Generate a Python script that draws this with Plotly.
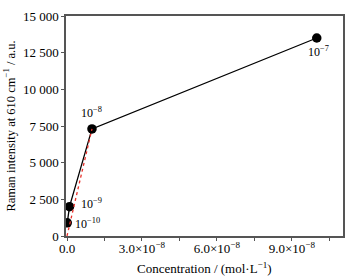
import plotly.graph_objects as go

conc = [1e-10, 1e-9, 1e-8, 1e-7]
intensity = [900, 2000, 7300, 13500]
point_labels = ["10<sup>−10</sup>", "10<sup>−9</sup>", "10<sup>−8</sup>", "10<sup>−7</sup>"]
fit_x = [0.0, 1e-8]
fit_y = [0, 7300]

x_tickvals = [0, 1.5e-8, 3e-8, 4.5e-8, 6e-8, 7.5e-8, 9e-8, 10.5e-8]
x_ticktext = ["0.0", "", "3.0×10<sup>−8</sup>", "", "6.0×10<sup>−8</sup>", "",
              "9.0×10<sup>−8</sup>", ""]
y_tickvals = [0, 2500, 5000, 7500, 10000, 12500, 15000]
y_ticktext = ["0", "2 500", "5 000", "7 500", "10 000", "12 500", "15 000"]

font = "Liberation Serif, Times New Roman, serif"
fs = 13

fig = go.Figure()
fig.add_trace(go.Scatter(x=conc, y=intensity, mode="lines+markers",
                         line=dict(color="black", width=1.3),
                         marker=dict(color="black", size=9.5),
                         showlegend=False, hoverinfo="skip"))
fig.add_trace(go.Scatter(x=fit_x, y=fit_y, mode="lines",
                         line=dict(color="#e8302a", width=1.3, dash="dot"),
                         showlegend=False, hoverinfo="skip"))

# (xshift, yshift, xanchor, yanchor)
offsets = [(6, -1, "left", "middle"), (9, 3, "left", "middle"),
           (0, 7, "center", "bottom"), (2, -4, "center", "top")]
for x, y, t, (ax, ay, xa, ya) in zip(conc, intensity, point_labels, offsets):
    fig.add_annotation(x=x, y=y, text=t, showarrow=False,
                       xshift=ax, yshift=ay, xanchor=xa, yanchor=ya,
                       font=dict(family=font, size=fs - 1, color="black"))

fig.add_annotation(xref="paper", yref="paper", x=0.5, y=0, yshift=-22,
                   xanchor="center", yanchor="top", showarrow=False,
                   text="Concentration / (mol·L<sup>−1</sup>)",
                   font=dict(family=font, size=fs, color="black"))

axis_common = dict(showline=True, mirror=True, linecolor="#555555", linewidth=1.5,
                   ticks="outside", tickcolor="#555555", ticklen=3, tickwidth=1,
                   showgrid=False, zeroline=False,
                   tickfont=dict(family=font, size=fs, color="black"))

fig.update_xaxes(range=[-0.04e-8, 11.05e-8], tickmode="array",
                 tickvals=x_tickvals, ticktext=x_ticktext,
                 ticklabelstandoff=-3,
                 **axis_common)
fig.update_yaxes(range=[0, 15000], tickmode="array",
                 tickvals=y_tickvals, ticktext=y_ticktext,
                 title=dict(text="Raman intensity at 610 cm<sup>−1</sup> / a.u.",
                            font=dict(family=font, size=12.5, color="black"),
                            standoff=5),
                 **axis_common)

fig.update_layout(width=354, height=276,
                  margin=dict(l=66, r=9, t=12, b=40),
                  plot_bgcolor="white", paper_bgcolor="white")

fig.write_html("out.html", config={"displayModeBar": False},
               post_script="document.body.style.margin='0';document.body.style.overflow='hidden';")
